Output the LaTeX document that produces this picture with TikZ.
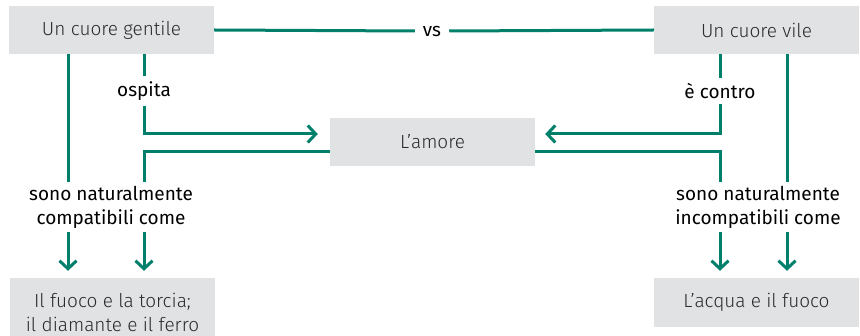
\documentclass[tikz,border=0pt]{standalone}
\usepackage{fontspec}
\setmainfont{Fira Sans}
\newfontfamily\boxfont{Fira Sans Light}
\usetikzlibrary{arrows.meta}
\definecolor{linkgreen}{HTML}{007F6B}
\definecolor{boxgray}{HTML}{E1E2E4}
\definecolor{boxtext}{HTML}{2B2B2B}
\tikzset{
  box/.style={fill=boxgray, minimum width=205pt, minimum height=48pt, inner sep=0pt,
    align=center, font=\boxfont\fontsize{19}{24}\selectfont, text=boxtext},
  lbl/.style={inner sep=0pt, align=center, font=\fontsize{19}{24}\selectfont, text=black},
  link/.style={draw=linkgreen, line width=3pt},
  tip/.style={link, -{Straight Barb[length=8pt, width=17pt, line width=3pt]}}
}
\begin{document}
\begin{tikzpicture}[x=1pt, y=-1pt]
  \useasboundingbox (0,0) rectangle (860,336);
  % columns and rows of the connector grid
  \coordinate (cA) at (68,0);
  \coordinate (cB) at (144,0);
  \coordinate (cC) at (720,0);
  \coordinate (cD) at (787,0);
  \coordinate (rIn) at (0,134);
  \coordinate (rOut) at (0,152);

  % boxes
  \node[box] (gentile) at (111.5,30) {Un cuore gentile};
  \node[box] (vile) at (756.5,30) {Un cuore vile};
  \node[box] (amore) at (432.5,142) {L’amore};
  \node[box, minimum height=68pt] (torcia) at (112.5,312) {Il fuoco e la torcia;\\il diamante e il ferro};
  \node[box, minimum height=49pt] (acqua) at (756.5,302.5) {L’acqua e il fuoco};

  % labels
  \node[lbl, inner xsep=8pt] (vs) at (432,31) {vs};
  \node[lbl, inner ysep=5pt] (ospita) at (144,91) {ospita};
  \node[lbl, inner ysep=5pt] (contro) at (720,91) {è contro};
  \node[lbl, inner ysep=4pt] (compat) at (111,207) {sono naturalmente\\compatibili come};
  \node[lbl, inner ysep=4pt] (incompat) at (758,207) {sono naturalmente\\incompatibili come};

  % top rivalry line
  \draw[link] (gentile.east) -- (vs.west);
  \draw[link] (vs.east) -- (vile.west);

  % left side
  \draw[link] (gentile.south -| cB) -- (ospita.north);
  \draw[tip, shorten >=12pt] (ospita.south) -- (ospita |- rIn) -- (amore.west |- rIn);
  \draw[link] (amore.west |- rOut) -- (cB |- rOut) -- (compat.north -| cB);
  \draw[link] (gentile.south -| cA) -- (compat.north -| cA);
  \draw[tip, shorten >=7pt] (compat.south -| cA) -- (torcia.north -| cA);
  \draw[tip, shorten >=7pt] (compat.south -| cB) -- (torcia.north -| cB);

  % right side
  \draw[link] (vile.south -| cC) -- (contro.north);
  \draw[tip, shorten >=10pt] (contro.south) -- (contro |- rIn) -- (amore.east |- rIn);
  \draw[link] (amore.east |- rOut) -- (cC |- rOut) -- (incompat.north -| cC);
  \draw[link] (vile.south -| cD) -- (incompat.north -| cD);
  \draw[tip, shorten >=7pt] (incompat.south -| cC) -- (acqua.north -| cC);
  \draw[tip, shorten >=7pt] (incompat.south -| cD) -- (acqua.north -| cD);
\end{tikzpicture}
\end{document}
